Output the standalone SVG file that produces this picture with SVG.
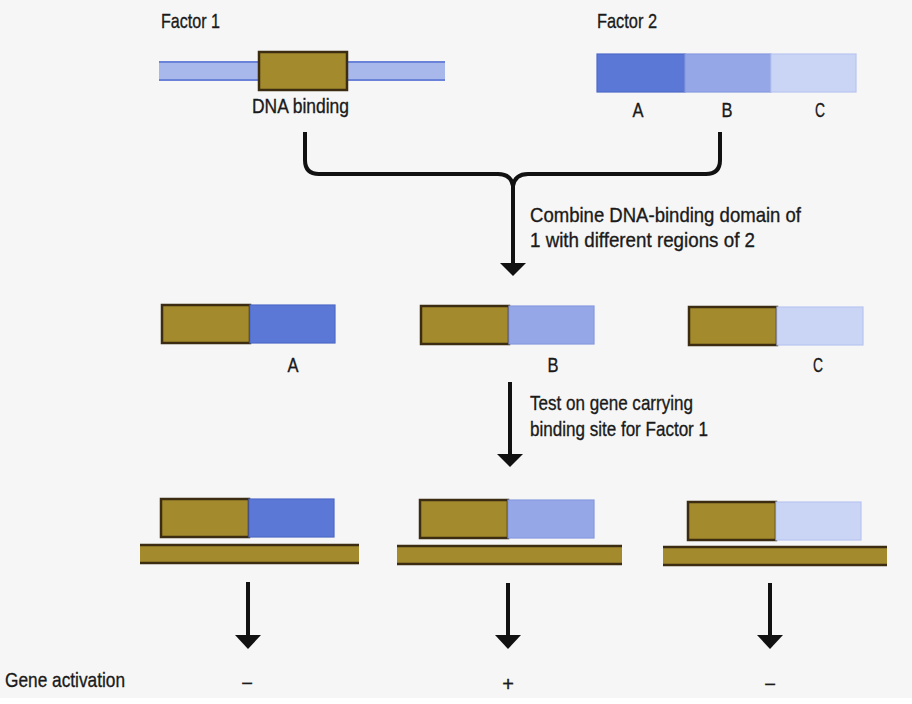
<svg xmlns="http://www.w3.org/2000/svg" width="912" height="704" viewBox="0 0 912 704">
<style>
text{font-family:"Liberation Sans",Arial,sans-serif;font-size:21px;fill:#1a1a1a;stroke:#1a1a1a;stroke-width:0.35}
.lbl{font-size:20px}
.brown{fill:#a38a2c;stroke:#3b2c12;stroke-width:2.5}
.a{fill:#5b78d6;stroke:#4d69c9;stroke-width:1.2}
.b{fill:#95a7e7;stroke:#889ae0;stroke-width:1.2}
.c{fill:#cad4f5;stroke:#b8c5f0;stroke-width:1.2}
.dna{fill:#a38a2c}
.dnaedge{stroke:#3b2c12;stroke-width:2.5}
.line{fill:none;stroke:#111;stroke-width:4}
.head{fill:#111}
</style>
<rect x="0" y="0" width="912" height="698" fill="#f6f6f6"/>
<rect x="0" y="698" width="912" height="6" fill="#ffffff"/>

<g id="factor1">
<text x="161" y="28" textLength="59" lengthAdjust="spacingAndGlyphs">Factor 1</text>
<rect x="159" y="62" width="286" height="18" fill="#a9b8ea"/>
<line x1="159" y1="62" x2="445" y2="62" stroke="#6a82d8" stroke-width="2"/>
<line x1="159" y1="80" x2="445" y2="80" stroke="#6a82d8" stroke-width="2"/>
<rect x="259" y="52" width="88" height="38" class="brown"/>
<text x="252" y="113" textLength="97" lengthAdjust="spacingAndGlyphs">DNA binding</text>
</g>

<g id="factor2">
<text x="597" y="28" textLength="60" lengthAdjust="spacingAndGlyphs">Factor 2</text>
<rect x="597" y="54" width="88" height="38" class="a"/>
<rect x="685" y="54" width="86" height="38" class="b"/>
<rect x="771" y="54" width="85" height="38" class="c"/>
<text x="638" y="117" text-anchor="middle" class="lbl" textLength="11" lengthAdjust="spacingAndGlyphs">A</text>
<text x="727" y="117" text-anchor="middle" class="lbl" textLength="11" lengthAdjust="spacingAndGlyphs">B</text>
<text x="820" y="117" text-anchor="middle" class="lbl" textLength="10" lengthAdjust="spacingAndGlyphs">C</text>
</g>

<g id="fusionA">
<rect x="162" y="305" width="88" height="38" class="brown"/>
<rect x="250" y="305" width="85" height="38" class="a"/>
<text x="293" y="372" text-anchor="middle" class="lbl" textLength="11" lengthAdjust="spacingAndGlyphs">A</text>
</g>
<g id="fusionB">
<rect x="421" y="306" width="88" height="38" class="brown"/>
<rect x="509" y="306" width="85" height="38" class="b"/>
<text x="553" y="372" text-anchor="middle" class="lbl" textLength="11" lengthAdjust="spacingAndGlyphs">B</text>
</g>
<g id="fusionC">
<rect x="689" y="307" width="88" height="38" class="brown"/>
<rect x="777" y="307" width="86" height="38" class="c"/>
<text x="818" y="372" text-anchor="middle" class="lbl" textLength="10" lengthAdjust="spacingAndGlyphs">C</text>
</g>

<g id="boundA">
<rect x="161" y="499" width="88" height="38" class="brown"/>
<rect x="249" y="499" width="85" height="38" class="a"/>
<rect x="140" y="545" width="219" height="18" class="dna"/>
<line x1="140" y1="545" x2="359" y2="545" class="dnaedge"/>
<line x1="140" y1="563" x2="359" y2="563" class="dnaedge"/>
</g>
<g id="boundB">
<rect x="420" y="500" width="88" height="38" class="brown"/>
<rect x="508" y="500" width="86" height="38" class="b"/>
<rect x="397" y="546" width="225" height="18" class="dna"/>
<line x1="397" y1="546" x2="622" y2="546" class="dnaedge"/>
<line x1="397" y1="564" x2="622" y2="564" class="dnaedge"/>
</g>
<g id="boundC">
<rect x="688" y="502" width="88" height="38" class="brown"/>
<rect x="776" y="502" width="85" height="38" class="c"/>
<rect x="663" y="547" width="224" height="18" class="dna"/>
<line x1="663" y1="547" x2="887" y2="547" class="dnaedge"/>
<line x1="663" y1="565" x2="887" y2="565" class="dnaedge"/>
</g>

<g id="connectors">
<path class="line" d="M305,132 V160 Q305,174 319,174 H498 Q511,174 513,186 Q515,174 528,174 H706 Q720,174 720,160 V132"/>
<line class="line" x1="513" y1="184" x2="513" y2="264"/>
<polygon class="head" points="500,263 526,263 513,276"/>
<line class="line" x1="510" y1="382" x2="510" y2="455"/>
<polygon class="head" points="497,454 523,454 510,467"/>
<line class="line" x1="248" y1="582" x2="248" y2="636"/>
<polygon class="head" points="235,635 261,635 248,649"/>
<line class="line" x1="508" y1="583" x2="508" y2="636"/>
<polygon class="head" points="495,635 521,635 508,649"/>
<line class="line" x1="770" y1="583" x2="770" y2="636"/>
<polygon class="head" points="757,635 783,635 770,649"/>
</g>

<g id="labels">
<text x="530" y="222" textLength="271" lengthAdjust="spacingAndGlyphs">Combine DNA-binding domain of</text>
<text x="530" y="247" textLength="225" lengthAdjust="spacingAndGlyphs">1 with different regions of 2</text>
<text x="530" y="410" textLength="163" lengthAdjust="spacingAndGlyphs">Test on gene carrying</text>
<text x="530" y="436" textLength="178" lengthAdjust="spacingAndGlyphs">binding site for Factor 1</text>
<text x="5" y="687" textLength="120" lengthAdjust="spacingAndGlyphs">Gene activation</text>
<text x="247" y="690" text-anchor="middle" class="lbl">−</text>
<text x="508" y="691" text-anchor="middle" class="lbl">+</text>
<text x="770" y="691" text-anchor="middle" class="lbl">−</text>
</g>
</svg>
